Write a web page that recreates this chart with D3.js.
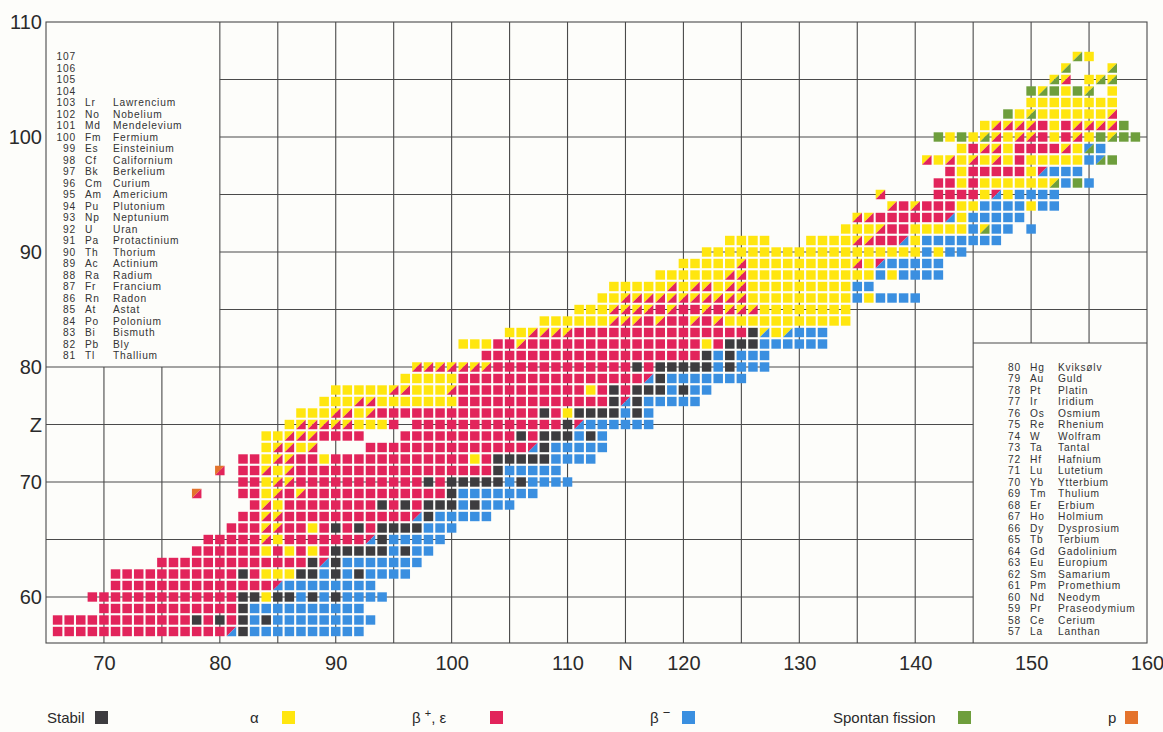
<!DOCTYPE html>
<html>
<head>
<meta charset="utf-8">
<script src="https://cdn.jsdelivr.net/npm/d3@7"></script>
<style>
  body { margin: 0; background: #fdfdfa; }
  text { font-family: "Liberation Sans", Arial, sans-serif; }
</style>
</head>
<body>
<div id="chart"></div>
<script>
// one row of the nuclide chart per Z: first N of the row, then one code per N
// s stabil, a alfa, e beta+/EC, b beta-, f spontan fisjon, . tom
// split cells (upper-left / lower-right): x a/e, y e/b, w a/b, z a/f, v b/f, p p/e
const rowZ = [57, 58, 59, 60, 61, 62, 63, 64, 65, 66, 67, 68, 69, 70, 71, 72, 73, 74, 75, 76, 77, 78, 79, 80, 81, 82,
  83, 84, 85, 86, 87, 88, 89, 90, 91, 92, 93, 94, 95, 96, 97, 98, 99, 100, 101, 102, 103, 104, 105, 106, 107];
const rowStart = [66, 66, 70, 69, 71, 71, 75, 78, 79, 81, 82, 83, 78, 82, 80, 82, 84, 84, 86, 87, 89, 90, 96, 97, 103, 101,
  105, 108, 111, 113, 114, 118, 120, 122, 124, 134, 135, 138, 137, 142, 143, 141, 144, 142, 146, 148, 150, 150, 152, 153, 154];
const rowCells = [
  "eeeeeeeeeeeeeeeysbbbbbbbbbb",
  "eeeeeeeeeeeesesesbsbbbbbbbbb",
  "eeeeeeeeeeeesbbbbbbbbbb",
  "eeeeeeeeeeeeessassbsbsbbbb",
  "eeeeeeeeeeeeeeybbbbbbbb",
  "eeeeeeeeeeeseaaassbsbsbbbb",
  "eeeeeeeeeeeeesysbbbbbbb",
  "eeeeeeaeaeaesssssbsbb",
  "eeeeexaeeeeeeeysbbbbb",
  "eeexxeeaesesessssbbb",
  "eexxeeeeeeeeeeeysbbbbb",
  "exaeeeeeeeesesesssbsbbb",
  "p...eeaxexeeeeeeeeeeeesbbbbbbb",
  "eeaxxeeeeeeeeeeesesssssbsbbbb",
  "p.eexaxeeeeeeeeeeeeeeeeesbbbbb",
  "eeaxxeeaeeeeeeeeeeeeaesssssbbbb",
  "axxax....eeeeeeeeeeeeeeysbbbbb",
  "aaxxxeeee...eeeeeeeeeesesssbsb",
  "axxxxxaaae.eeeeeeeeeeeeesybbbbbb",
  "aaaxxaxeeeeeeeeeeeeeeseassssbsb",
  "aaaxxaaaaaaaeeeeeeeeeeeeesysbbbbb",
  "aaaaaxxaaaxeeeeeeeeeeeaesesssbsbb",
  "aaaaaeeeeeeeeeeeeeeeeysbbbbbbb",
  "xxxxxxxeeeeeeeeeeeesesssssbsbbb",
  "eeeeeeeeeeeeeeeeeeesbsbbb",
  "aaaeexeeeeeeeeeeeeeeeaesssbbbbbb",
  "aaxxxxeeeeeeeeeeeeeeeswawbbb",
  "aaaaaaxxxexeexexaaaaaaaaaaa",
  "aaaxxxxexeexexxxaaaaaaaa",
  "aaxxxxxxxxxxxaaaaaaaaababbbb",
  "aaaaaxaxxaxxaaaaaaaaabb",
  "aaaaaaxxaaaaaaaaaaababbbb",
  "aaaaaxaaaaaaaaaxaybbbbb",
  "aaaaaaaaaaaaaaaaaaababb",
  "aaaa...aaaaxxeeyabbbbbbb",
  "aaaxeeaaaaabzbb.b",
  "xxeeeeeeyabbbbb",
  "xexeeeaabbbbabb",
  "x....eeeeayabbbb",
  "eeaeaaaaaazbfb",
  "eaeeeeeaybbb",
  "xaxaxaxaeaaaaabvf",
  "aexxaeeeexavb",
  "fafazxaxxeaexafzff",
  "axxxxeaexxxxf",
  "fazaaaaaax",
  "aaaaaaaa",
  "fzfafz.a",
  "zx.azz",
  "z...z",
  "za"
];

// axis ticks
const nTicks = [70, 80, 90, 100, 110, 120, 130, 140, 150, 160];
const zTicks = [60, 70, 80, 90, 100, 110];

// element lists in the two boxes
const leftZ = [107, 106, 105, 104, 103, 102, 101, 100, 99, 98, 97, 96, 95, 94, 93, 92, 91, 90, 89, 88, 87, 86, 85, 84, 83, 82, 81];
const leftSym = ["", "", "", "", "Lr", "No", "Md", "Fm", "Es", "Cf", "Bk", "Cm", "Am", "Pu", "Np", "U", "Pa", "Th", "Ac", "Ra", "Fr", "Rn", "At", "Po", "Bi", "Pb", "Tl"];
const leftName = ["", "", "", "", "Lawrencium", "Nobelium", "Mendelevium", "Fermium", "Einsteinium", "Californium", "Berkelium",
  "Curium", "Americium", "Plutonium", "Neptunium", "Uran", "Protactinium", "Thorium", "Actinium", "Radium", "Francium",
  "Radon", "Astat", "Polonium", "Bismuth", "Bly", "Thallium"];
const rightZ = [80, 79, 78, 77, 76, 75, 74, 73, 72, 71, 70, 69, 68, 67, 66, 65, 64, 63, 62, 61, 60, 59, 58, 57];
const rightSym = ["Hg", "Au", "Pt", "Ir", "Os", "Re", "W", "Ta", "Hf", "Lu", "Yb", "Tm", "Er", "Ho", "Dy", "Tb", "Gd", "Eu", "Sm", "Pm", "Nd", "Pr", "Ce", "La"];
const rightName = ["Kviksølv", "Guld", "Platin", "Iridium", "Osmium", "Rhenium", "Wolfram", "Tantal", "Hafnium", "Lutetium",
  "Ytterbium", "Thulium", "Erbium", "Holmium", "Dysprosium", "Terbium", "Gadolinium", "Europium", "Samarium",
  "Promethium", "Neodym", "Praseodymium", "Cerium", "Lanthan"];

// legend
const legendKeys = ["s", "a", "e", "b", "f", "p"];
const legendX = [47, 250, 412, 650, 833, 1108];

const colors = { s: "#3d3c3f", a: "#ffe60f", e: "#e2245b", b: "#3a8fe0", f: "#6e9e3c", p: "#e4732c" };
const splits = { x: ["a", "e"], y: ["e", "b"], w: ["a", "b"], z: ["a", "f"], v: ["b", "f"], p: ["p", "e"] };

const width = 1163, height = 732;
const svg = d3.select("#chart").append("svg")
  .attr("width", width)
  .attr("height", height);

const x = d3.scaleLinear().domain([65, 160]).range([46, 1147]);
const y = d3.scaleLinear().domain([56, 110]).range([643, 22]);
const boxTop = 343; // top of the lower right box

// grid
const grid = svg.append("g").attr("stroke", "#4a4a4a").attr("stroke-width", 1.1);
d3.range(70, 160, 5).forEach(n => {
  const y0 = n < 80 ? y(80) : y(110);
  const y1 = n > 145 ? boxTop : y(56);
  grid.append("line").attr("x1", x(n)).attr("x2", x(n)).attr("y1", y0).attr("y2", y1);
});
d3.range(60, 110, 5).forEach(z => {
  const x0 = z > 80 ? x(80) : x(65);
  const x1 = y(z) > boxTop ? x(145) : x(160);
  grid.append("line").attr("x1", x0).attr("x2", x1).attr("y1", y(z)).attr("y2", y(z));
});
grid.append("line").attr("x1", x(145)).attr("x2", x(160)).attr("y1", boxTop).attr("y2", boxTop);
grid.append("rect")
  .attr("x", x(65)).attr("y", y(110))
  .attr("width", x(160) - x(65)).attr("height", y(56) - y(110))
  .attr("fill", "none");

// cells
const cells = [];
rowZ.forEach((z, i) => {
  rowCells[i].split("").forEach((c, j) => {
    if (c !== ".") cells.push({ z: z, n: rowStart[i] + j, code: c });
  });
});

const cw = 9.5, ch = 9.4;
const cellG = svg.append("g");
cellG.selectAll("rect")
  .data(cells.filter(d => !splits[d.code]))
  .enter()
  .append("rect")
  .attr("x", d => x(d.n) - cw / 2)
  .attr("y", d => y(d.z) - ch / 2)
  .attr("width", cw)
  .attr("height", ch)
  .attr("fill", d => colors[d.code]);

const splitCells = cells.filter(d => splits[d.code]);
cellG.selectAll(".ul")
  .data(splitCells)
  .enter()
  .append("path")
  .attr("class", "ul")
  .attr("d", d => {
    const x0 = x(d.n) - cw / 2, y0 = y(d.z) - ch / 2;
    return `M${x0},${y0}H${x0 + cw}L${x0},${y0 + ch}Z`;
  })
  .attr("fill", d => colors[splits[d.code][0]]);
cellG.selectAll(".lr")
  .data(splitCells)
  .enter()
  .append("path")
  .attr("class", "lr")
  .attr("d", d => {
    const x0 = x(d.n) - cw / 2, y0 = y(d.z) - ch / 2;
    return `M${x0 + cw},${y0}V${y0 + ch}H${x0}Z`;
  })
  .attr("fill", d => colors[splits[d.code][1]]);

// axes
svg.append("g")
  .attr("transform", `translate(0,${y(56)})`)
  .call(d3.axisBottom(x).tickValues(nTicks).tickSize(0).tickPadding(13))
  .call(g => g.select(".domain").remove())
  .selectAll("text")
  .attr("font-size", 20)
  .attr("fill", "#2a2a2a")
  .style("font-family", "Liberation Sans, Arial, sans-serif");

svg.append("g")
  .attr("transform", `translate(${x(65)},0)`)
  .call(d3.axisLeft(y).tickValues(zTicks).tickSize(0).tickPadding(4))
  .call(g => g.select(".domain").remove())
  .selectAll("text")
  .attr("font-size", 20)
  .attr("fill", "#2a2a2a")
  .style("font-family", "Liberation Sans, Arial, sans-serif");

svg.append("text")
  .attr("x", x(115))
  .attr("y", y(56) + 27)
  .attr("text-anchor", "middle")
  .attr("font-size", 20)
  .attr("fill", "#2a2a2a")
  .text("N");

svg.append("text")
  .attr("x", 42)
  .attr("y", y(75) + 7)
  .attr("text-anchor", "end")
  .attr("font-size", 20)
  .attr("fill", "#2a2a2a")
  .text("Z");

// element names (rows are only 11.5 px apart, so the type is kept small)
function nameList(zs, syms, names, xNum, xSym, xName) {
  const g = svg.append("g")
    .attr("font-size", 10.2)
    .attr("letter-spacing", 0.8)
    .attr("fill", "#333");
  zs.forEach((z, i) => {
    const ty = y(z) + 3.6;
    g.append("text").attr("x", xNum).attr("y", ty).attr("text-anchor", "end").text(z);
    if (syms[i]) g.append("text").attr("x", xSym).attr("y", ty).text(syms[i]);
    if (names[i]) g.append("text").attr("x", xName).attr("y", ty).text(names[i]);
  });
}
nameList(leftZ, leftSym, leftName, 76, 85, 113);
nameList(rightZ, rightSym, rightName, 1021, 1030, 1058);

// legend
const legend = svg.append("g").attr("font-size", 15).attr("fill", "#2a2a2a");
const legendBox = [95, 282, 490, 682, 958, 1125];
legendKeys.forEach((k, i) => {
  const t = legend.append("text").attr("x", legendX[i]).attr("y", 723);
  if (k === "s") t.text("Stabil");
  if (k === "a") t.text("α");
  if (k === "e") {
    t.append("tspan").text("β ");
    t.append("tspan").attr("dy", -6).attr("font-size", 11).text("+");
    t.append("tspan").attr("dy", 6).text(", ε");
  }
  if (k === "b") {
    t.append("tspan").text("β ");
    t.append("tspan").attr("dy", -6).attr("font-size", 13).text("−");
  }
  if (k === "f") t.text("Spontan fission");
  if (k === "p") t.text("p");
  legend.append("rect")
    .attr("x", legendBox[i]).attr("y", 711)
    .attr("width", 13).attr("height", 13)
    .attr("fill", colors[k]);
});
</script>
</body>
</html>
